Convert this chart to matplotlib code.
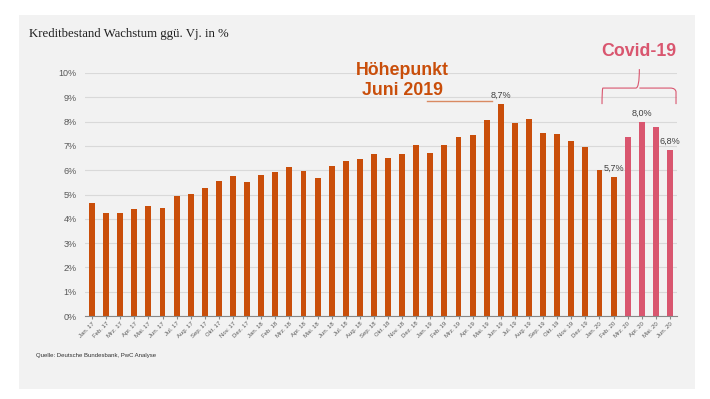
import matplotlib
matplotlib.use("Agg")
import matplotlib.pyplot as plt
from matplotlib.patches import Rectangle
from matplotlib.path import Path
from matplotlib.patches import PathPatch

months = ["Jan. 17", "Feb. 17", "Mrz. 17", "Apr. 17", "Mai. 17", "Jun. 17", "Jul. 17", "Aug. 17",
          "Sep. 17", "Okt. 17", "Nov. 17", "Dez. 17",
          "Jan. 18", "Feb. 18", "Mrz. 18", "Apr. 18", "Mai. 18", "Jun. 18", "Jul. 18", "Aug. 18",
          "Sep. 18", "Okt. 18", "Nov. 18", "Dez. 18",
          "Jan. 19", "Feb. 19", "Mrz. 19", "Apr. 19", "Mai. 19", "Jun. 19", "Jul. 19", "Aug. 19",
          "Sep. 19", "Okt. 19", "Nov. 19", "Dez. 19",
          "Jan. 20", "Feb. 20", "Mrz. 20", "Apr. 20", "Mai. 20", "Jun. 20"]
values = [4.64, 4.22, 4.25, 4.40, 4.51, 4.43, 4.92, 5.03, 5.28, 5.54, 5.76, 5.51,
          5.82, 5.93, 6.14, 5.95, 5.68, 6.19, 6.38, 6.45, 6.67, 6.50, 6.67, 7.05,
          6.69, 7.05, 7.37, 7.46, 8.08, 8.72, 7.94, 8.11, 7.54, 7.47, 7.19, 6.97,
          5.99, 5.73, 7.35, 7.97, 7.78, 6.83]
covid_start = 38
labels = {29: "8,7%", 37: "5,7%", 39: "8,0%", 41: "6,8%"}
yticks = [0, 1, 2, 3, 4, 5, 6, 7, 8, 9, 10]

ORANGE = "#C94E0A"
PINK = "#D9566F"
TXT = "#595959"

W, H = 710, 399
fig = plt.figure(figsize=(W / 100, H / 100), dpi=100)
fig.patch.set_facecolor("white")
fig.patches.append(Rectangle((19 / W, 1 - 389 / H), (695 - 19) / W, (389 - 15) / H,
                             transform=fig.transFigure, facecolor="#F2F2F2",
                             edgecolor="none", zorder=-5))

ax = fig.add_axes([85 / W, 1 - 316 / H, (677 - 85) / W, (316 - 73) / H])
ax.set_zorder(2)
ax.set_facecolor("none")
x = list(range(len(values)))
colors = [PINK if i >= covid_start else ORANGE for i in x]
ax.bar(x, values, width=0.42, color=colors, zorder=3)
ax.set_xlim(-0.5, len(values) - 0.5)
ax.set_ylim(0, 10)
ax.set_yticks(yticks)
ax.set_yticklabels([f"{t}%" for t in yticks], fontsize=6.5, color=TXT, family="Liberation Sans")
ax.yaxis.grid(True, color="#D9D9D9", linewidth=0.8, zorder=0)
ax.set_axisbelow(True)
ax.set_xticks(x)
ax.set_xticklabels(months, rotation=45, ha="right", rotation_mode="anchor",
                   fontsize=4.3, color=TXT, family="Liberation Sans")
ax.tick_params(axis="y", length=0, pad=6)
ax.tick_params(axis="x", length=2, color="#888888", pad=1.5)
for s in ["top", "right", "left"]:
    ax.spines[s].set_visible(False)
ax.spines["bottom"].set_color("#888888")
ax.spines["bottom"].set_linewidth(0.8)
ax.spines["bottom"].set_zorder(4)

for i, lab in labels.items():
    ax.text(i, values[i] + 0.18, lab, ha="center", va="bottom", fontsize=6.5,
            color="#404040", family="Liberation Sans")

# Höhepunkt annotation
ax.text(22.0, 10.12, "Höhepunkt", ha="center", va="center", fontsize=12.8,
        fontweight="bold", color=ORANGE, family="Liberation Sans", clip_on=False)
ax.text(22.0, 9.28, "Juni 2019", ha="center", va="center", fontsize=12.8,
        fontweight="bold", color=ORANGE, family="Liberation Sans", clip_on=False)
ax.plot([23.78, 28.4], [8.85, 8.85], color="#D98A62", linewidth=1.0, clip_on=False)

# Covid-19 annotation
ax.text(38.8, 10.9, "Covid-19", ha="center", va="center", fontsize=12.8,
        fontweight="bold", color=PINK, family="Liberation Sans", clip_on=False)
x0, x1, xm = 36.18, 41.43, 38.83
yb, yt, yp = 8.72, 9.38, 10.16
verts = [(x0, yb), (x0, yt - 0.15), (x0 + 0.05, yt), (x0 + 0.4, yt),
         (xm - 0.25, yt), (xm, yt), (xm, yp),
         (xm, yt), (xm + 0.25, yt), (x1 - 0.4, yt),
         (x1 - 0.05, yt), (x1, yt - 0.15), (x1, yb)]
codes = [Path.MOVETO, Path.CURVE3, Path.CURVE3, Path.LINETO,
         Path.LINETO, Path.CURVE3, Path.CURVE3,
         Path.MOVETO, Path.CURVE3, Path.LINETO,
         Path.CURVE3, Path.CURVE3, Path.LINETO]
ax.add_patch(PathPatch(Path(verts, codes), facecolor="none", edgecolor=PINK,
                       linewidth=0.8, clip_on=False))

fig.text(29 / W, 1 - 34 / H, "Kreditbestand Wachstum ggü. Vj. in %", fontsize=9.2,
         family="Liberation Serif", color="#202020", va="center", ha="left")
fig.text(36 / W, 1 - 356 / H, "Quelle: Deutsche Bundesbank, PwC Analyse", fontsize=4.3,
         family="Liberation Sans", color="#303030", va="center", ha="left")

fig.savefig("out.png", dpi=100)
